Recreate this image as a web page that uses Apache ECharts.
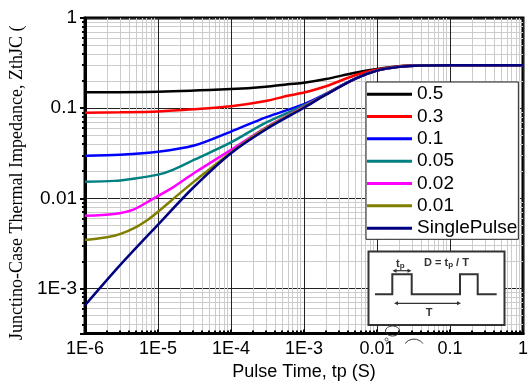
<!DOCTYPE html>
<html><head><meta charset="utf-8">
<script src="https://cdn.jsdelivr.net/npm/echarts@6/dist/echarts.min.js"></script>
<style>html,body{margin:0;padding:0;background:#fff}#c{width:531px;height:389px}</style>
</head><body><div id="c"></div>
<script>
const xTickLabels = ['1E-6','1E-5','1E-4','1E-3','0.01','0.1','1'];
const yTickLabels = ['1E-3','0.01','0.1','1'];
const seriesNames = ['0.5','0.3','0.1','0.05','0.02','0.01','SinglePulse'];
const seriesColors = ['#000000','#ff0000','#0000ff','#008080','#ff00ff','#808000','#000080'];

const d05 = [[1e-6,0.150],[1e-5,0.152],[1e-4,0.163],[3e-4,0.173],[6e-4,0.184],[1e-3,0.191],[2e-3,0.210],[5e-3,0.247],[1e-2,0.272],[2e-2,0.292],[4e-2,0.299],[0.1,0.300],[1,0.300]];
const d03 = [[1e-6,0.089],[3e-6,0.090],[1e-5,0.092],[3e-5,0.097],[1e-4,0.105],[3e-4,0.120],[6e-4,0.137],[1e-3,0.149],[2e-3,0.175],[5e-3,0.232],[1e-2,0.268],[2e-2,0.291],[4e-2,0.299],[0.1,0.300],[1,0.300]];
const d01 = [[1e-6,0.0297],[3e-6,0.0305],[1e-5,0.0328],[3.2e-5,0.0387],[1e-4,0.055],[3e-4,0.079],[1e-3,0.111],[2e-3,0.145],[5e-3,0.213],[1e-2,0.262],[2e-2,0.288],[4e-2,0.298],[0.1,0.300],[1,0.300]];
const d005 = [[1e-6,0.0153],[2.5e-6,0.0156],[4.6e-6,0.0165],[1e-5,0.0183],[1.6e-5,0.0207],[3.2e-5,0.0270],[1e-4,0.0417],[3e-4,0.069],[1e-3,0.107],[2e-3,0.143],[5e-3,0.212],[1e-2,0.262],[2e-2,0.288],[4e-2,0.298],[0.1,0.300],[1,0.300]];
const d002 = [[1e-6,0.0064],[2.5e-6,0.0067],[4.6e-6,0.0075],[8.4e-6,0.0098],[1.6e-5,0.0132],[3.2e-5,0.0193],[1e-4,0.0344],[3e-4,0.061],[1e-3,0.104],[2e-3,0.142],[5e-3,0.211],[1e-2,0.261],[2e-2,0.287],[4e-2,0.298],[0.1,0.300],[1,0.300]];
const d001 = [[1e-6,0.00344],[2e-6,0.0037],[3e-6,0.0040],[5e-6,0.0048],[7.5e-6,0.0059],[1e-5,0.0071],[2e-5,0.0114],[3.2e-5,0.0156],[1e-4,0.0323],[3e-4,0.060],[1e-3,0.103],[2e-3,0.142],[5e-3,0.211],[1e-2,0.261],[2e-2,0.287],[4e-2,0.298],[0.1,0.300],[1,0.300]];
const dsp = [[1e-6,0.00065],[3e-6,0.0018],[1e-5,0.0051],[3e-5,0.0130],[1e-4,0.0316],[3e-4,0.058],[1e-3,0.101],[2e-3,0.141],[5e-3,0.211],[1e-2,0.261],[2e-2,0.287],[4e-2,0.298],[0.1,0.300],[1,0.300]];
const seriesData = [d05,d03,d01,d005,d002,d001,dsp];

const xMin = 1e-6, xMax = 1, yMin = Math.pow(10,-3.5), yMax = 1;

function xFmt(v){ const e = Math.round(Math.log10(v)); const i = e + 6; return (Math.abs(Math.log10(v)-e)<1e-6 && i>=0 && i<xTickLabels.length) ? xTickLabels[i] : ''; }
function yFmt(v){ const e = Math.round(Math.log10(v)); const i = e + 3; return (Math.abs(Math.log10(v)-e)<1e-6 && i>=0 && i<yTickLabels.length) ? yTickLabels[i] : ''; }

const chart = echarts.init(document.getElementById('c'), null, {renderer:'canvas'});
const series = seriesNames.map((n,i)=>({
  name:n, type:'line', data:seriesData[i], symbol:'none', smooth:0.3,
  lineStyle:{color:seriesColors[i], width:2.5}, itemStyle:{color:seriesColors[i]}, z:3+i, silent:true
}));

chart.setOption({
  animation:false,
  backgroundColor:'#fff',
  grid:{left:80, right:1, top:18, bottom:55.5, show:true, borderColor:'#000', borderWidth:3},
  xAxis:{type:'log', logBase:10, min:xMin, max:xMax,
    axisLine:{show:true, lineStyle:{color:'#000', width:3}},
    axisTick:{show:true, inside:true, length:4, lineStyle:{color:'#000', width:2}},
    minorTick:{show:true, splitNumber:9, length:3, lineStyle:{color:'#000', width:2}},
    splitLine:{show:true, lineStyle:{color:'#222', width:1}},
    minorSplitLine:{show:true, lineStyle:{color:'#cccccc', width:1}},
    axisLabel:{fontSize:18, fontFamily:'Liberation Sans', color:'#000', margin:7, formatter:xFmt, showMinLabel:true, showMaxLabel:true},
    name:'Pulse Time, tp (S)', nameLocation:'middle', nameGap:30,
    nameTextStyle:{fontSize:18, fontFamily:'Liberation Sans', color:'#000'}
  },
  yAxis:{type:'log', logBase:10, min:yMin, max:yMax,
    axisLine:{show:true, lineStyle:{color:'#000', width:3}},
    axisTick:{show:true, inside:false, length:5, lineStyle:{color:'#000', width:2}},
    minorTick:{show:true, splitNumber:9, length:3, lineStyle:{color:'#000', width:2}},
    splitLine:{show:true, lineStyle:{color:'#222', width:1}},
    minorSplitLine:{show:true, lineStyle:{color:'#cccccc', width:1}},
    axisLabel:{fontSize:19, fontFamily:'Liberation Sans', color:'#000', margin:8, formatter:yFmt, showMinLabel:false},
    name:'Junctino-Case Thermal Impedance, ZthJC (', nameLocation:'middle', nameRotate:90, nameGap:55,
    nameTextStyle:{fontSize:18, fontFamily:'Liberation Serif', color:'#000', padding:[0,14,0,0]}
  },
  legend:{orient:'vertical', left:366, top:82, icon:'rect', itemWidth:45, itemHeight:3, itemGap:0,
    backgroundColor:'#fff', borderColor:'#222', borderWidth:1, padding:[1,1,0,1],
    textStyle:{fontSize:19, fontFamily:'Liberation Sans', color:'#000', lineHeight:22.33},
    data:seriesNames},
  graphic:[
    {type:'rect', z:100, shape:{x:368.5, y:251.5, width:136, height:73.5}, style:{fill:'#fff', stroke:'#333', lineWidth:2}},
    {type:'polyline', z:101, shape:{points:[[375,294.3],[392.3,294.3],[392.3,274.3],[411.7,274.3],[411.7,294.3],[460,294.3],[460,274.3],[477.7,274.3],[477.7,294.3],[496.7,294.3]]}, style:{stroke:'#333', lineWidth:2, fill:null}},
    {type:'line', z:101, shape:{x1:394, y1:270.7, x2:410, y2:270.7}, style:{stroke:'#333', lineWidth:1.2}},
    {type:'polygon', z:101, shape:{points:[[392.5,270.7],[396.5,268.7],[396.5,272.7]]}, style:{fill:'#333'}},
    {type:'polygon', z:101, shape:{points:[[411.5,270.7],[407.5,268.7],[407.5,272.7]]}, style:{fill:'#333'}},
    {type:'line', z:101, shape:{x1:396, y1:303.3, x2:459, y2:303.3}, style:{stroke:'#333', lineWidth:1.2}},
    {type:'polygon', z:101, shape:{points:[[394,303.3],[398,301.3],[398,305.3]]}, style:{fill:'#333'}},
    {type:'polygon', z:101, shape:{points:[[461,303.3],[457,301.3],[457,305.3]]}, style:{fill:'#333'}},
    {type:'text', z:102, x:396, y:257, style:{text:'{a|t}{b|p}', rich:{a:{fontSize:11, fontWeight:'bold', fontFamily:'Liberation Sans', fill:'#333'}, b:{fontSize:8, fontWeight:'bold', fontFamily:'Liberation Sans', fill:'#333', padding:[5,0,0,0]}}}},
    {type:'text', z:102, x:424, y:256, style:{text:'{a|D = t}{b|p}{a| / T}', rich:{a:{fontSize:11, fontWeight:'bold', fontFamily:'Liberation Sans', fill:'#333'}, b:{fontSize:8, fontWeight:'bold', fontFamily:'Liberation Sans', fill:'#333', padding:[5,0,0,0]}}}},
    {type:'text', z:102, x:429, y:313, style:{text:'T', fontSize:11, fontWeight:'bold', fontFamily:'Liberation Sans', fill:'#333', align:'center', verticalAlign:'middle'}},
    {type:'ellipse', z:102, shape:{cx:392.5, cy:331, rx:7, ry:5}, style:{fill:null, stroke:'#333', lineWidth:1}},
    {type:'circle', z:102, shape:{cx:386.5, cy:339.5, r:1.5}, style:{fill:null, stroke:'#555', lineWidth:1}},
    {type:'arc', z:102, shape:{cx:414, cy:350, r:11, startAngle:Math.PI*1.2, endAngle:Math.PI*1.8}, style:{fill:null, stroke:'#333', lineWidth:1}}
  ],
  series:series
});
</script></body></html>
